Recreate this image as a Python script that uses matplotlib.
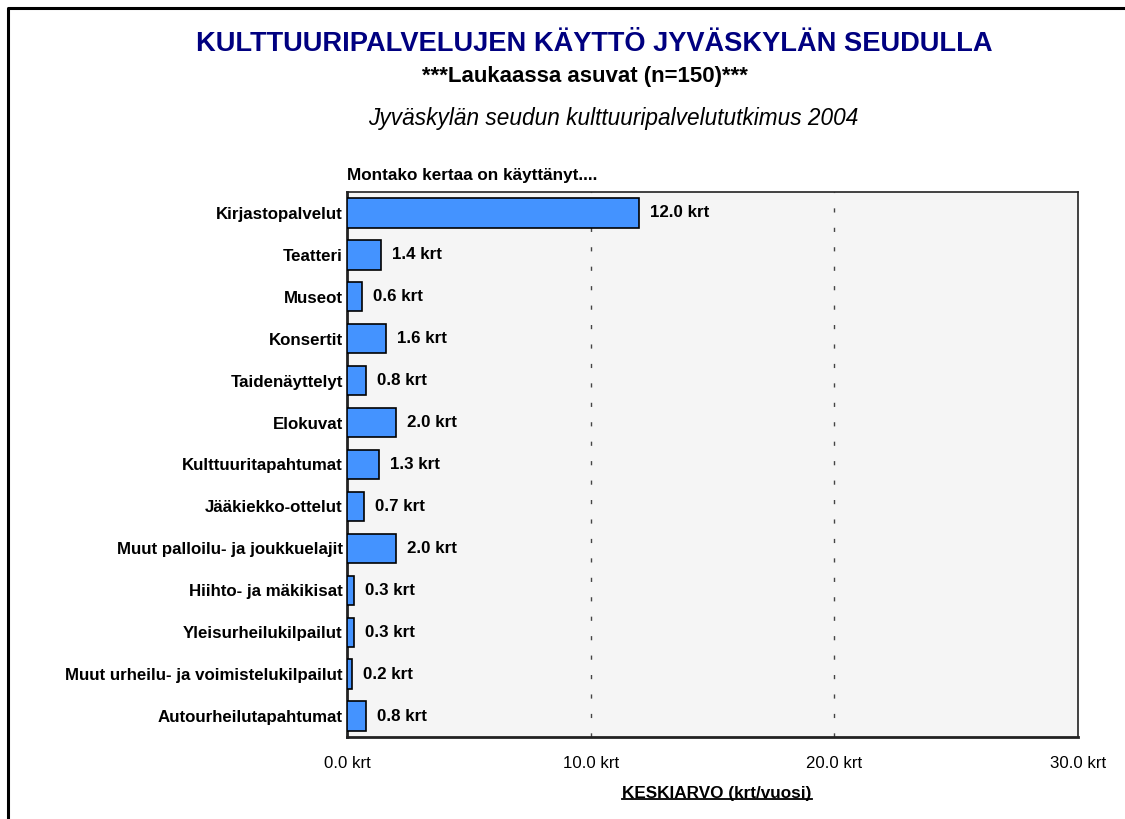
import matplotlib
matplotlib.use('Agg')
import matplotlib.pyplot as plt
from matplotlib.lines import Line2D

categories = ['Kirjastopalvelut', 'Teatteri', 'Museot', 'Konsertit', 'Taidenäyttelyt',
              'Elokuvat', 'Kulttuuritapahtumat', 'Jääkiekko-ottelut',
              'Muut palloilu- ja joukkuelajit', 'Hiihto- ja mäkikisat',
              'Yleisurheilukilpailut', 'Muut urheilu- ja voimistelukilpailut',
              'Autourheilutapahtumat']
values = [12.0, 1.4, 0.6, 1.6, 0.8, 2.0, 1.3, 0.7, 2.0, 0.3, 0.3, 0.2, 0.8]
xticks = [0, 10, 20, 30]
xtick_labels = ['0.0 krt', '10.0 krt', '20.0 krt', '30.0 krt']

plt.rcParams['font.family'] = ['Liberation Sans', 'DejaVu Sans']

fig = plt.figure(figsize=(11.25, 8.19), dpi=100)
ax = fig.add_axes([0.3084, 0.1001, 0.6498, 0.6655])
ax.set_facecolor('#f5f5f5')

ypos = list(range(len(categories)))
ax.barh(ypos, values, height=0.7, color='#4493ff', edgecolor='black', linewidth=1.2, zorder=3)
for y, v in zip(ypos, values):
    ax.text(v + 0.45, y, f'{v:.1f} krt', va='center', ha='left', fontsize=12.2,
            fontweight='bold', zorder=4)

ax.set_xlim(0, 30)
ax.set_ylim(len(categories) - 0.5, -0.5)
ax.set_yticks(ypos)
ax.set_yticklabels(categories, fontsize=12.2, fontweight='bold')
ax.set_xticks(xticks)
ax.set_xticklabels(xtick_labels, fontsize=12.1)
ax.tick_params(axis='y', length=0, pad=3)
ax.tick_params(axis='x', length=0, pad=14)
for x in xticks[1:3]:
    ax.axvline(x, color='#444444', lw=1, dashes=(3, 11), zorder=1)
for s in ax.spines.values():
    s.set_linewidth(1.2)
    s.set_color('#222222')
ax.spines['left'].set_linewidth(2)
ax.spines['bottom'].set_linewidth(2)

fig.text(0.5285, 0.946, 'KULTTUURIPALVELUJEN KÄYTTÖ JYVÄSKYLÄN SEUDULLA', ha='center',
         va='center', fontsize=19.6, fontweight='bold', color='#000080')
fig.text(0.52, 0.907, '***Laukaassa asuvat (n=150)***', ha='center', va='center',
         fontsize=16, fontweight='bold')
fig.text(0.5455, 0.855, 'Jyväskylän seudun kulttuuripalvelututkimus 2004', ha='center',
         va='center', fontsize=16.3, style='italic')
fig.text(0.3084, 0.786, 'Montako kertaa on käyttänyt....', ha='left', va='center',
         fontsize=12.3, fontweight='bold')

xl = fig.text(0.6373, 0.031, 'KESKIARVO (krt/vuosi)', ha='center', va='center',
              fontsize=12.3, fontweight='bold')
fig.canvas.draw()
bb = xl.get_window_extent().transformed(fig.transFigure.inverted())
fig.add_artist(Line2D([bb.x0, bb.x1], [bb.y0 + 0.002, bb.y0 + 0.002], color='black',
                      lw=1.3, transform=fig.transFigure))

# outer frame (left and top edges)
fig.add_artist(Line2D([0.0075, 0.0075, 1.0], [0.0, 0.9905, 0.9905], color='black',
                      lw=2.2, transform=fig.transFigure))

fig.savefig('out.png', dpi=100)
